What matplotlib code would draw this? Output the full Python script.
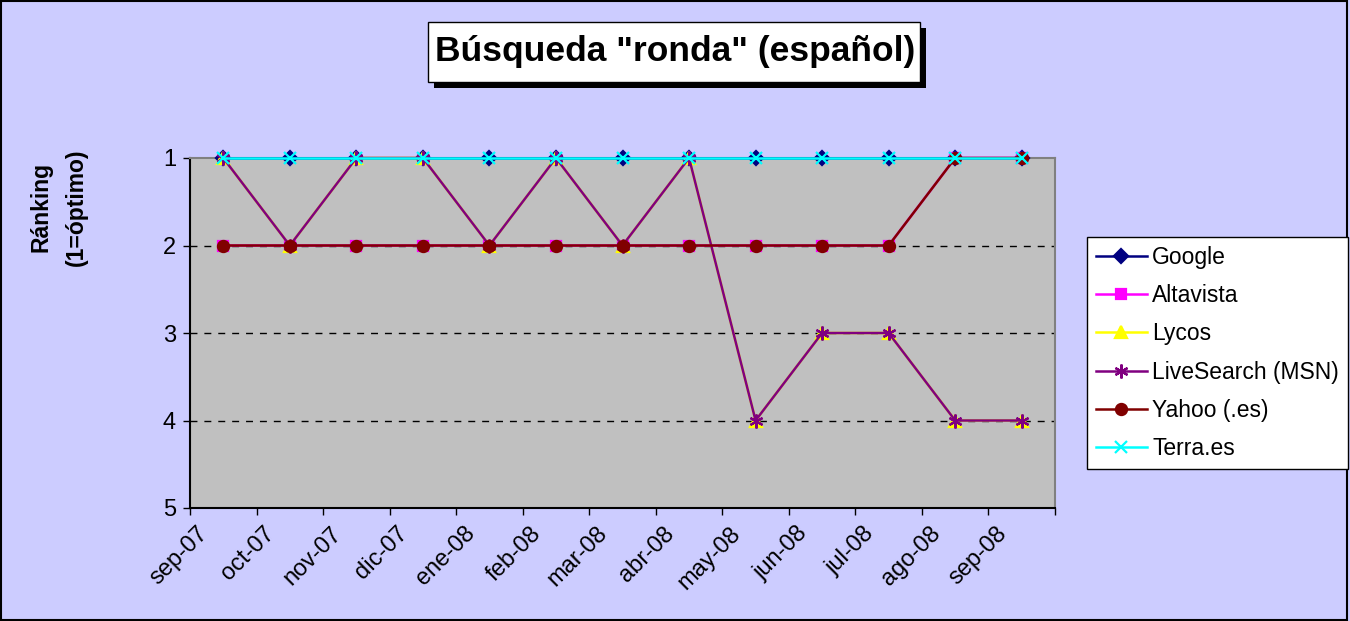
import matplotlib
matplotlib.use("Agg")
import matplotlib.pyplot as plt
from matplotlib.patches import Rectangle
from matplotlib.transforms import ScaledTranslation

plt.rcParams['font.family'] = ['Liberation Sans', 'DejaVu Sans']

months = ['sep-07', 'oct-07', 'nov-07', 'dic-07', 'ene-08', 'feb-08', 'mar-08',
          'abr-08', 'may-08', 'jun-08', 'jul-08', 'ago-08', 'sep-08']

google = [1, 1, 1, 1, 1, 1, 1, 1, 1, 1, 1, 1, 1]
altavista = [2, 2, 2, 2, 2, 2, 2, 2, 2, 2, 2, 1, 1]
lycos = [1, 2, 1, 1, 2, 1, 2, 1, 4, 3, 3, 4, 4]
livesearch = [1, 2, 1, 1, 2, 1, 2, 1, 4, 3, 3, 4, 4]
yahoo = [2, 2, 2, 2, 2, 2, 2, 2, 2, 2, 2, 1, 1]
terra = [1, 1, 1, 1, 1, 1, 1, 1, 1, 1, 1, 1, 1]

series = [
    ('Google', google, '#000080', 'D', 7),
    ('Altavista', altavista, '#FF00FF', 's', 7),
    ('Lycos', lycos, '#FFFF00', '^', 8),
    ('LiveSearch (MSN)', livesearch, '#800080', (6, 2, 0), 10),
    ('Yahoo (.es)', yahoo, '#800000', 'o', 8),
    ('Terra.es', terra, '#00FFFF', 'x', 9),
]

W, H = 1350, 621
fig = plt.figure(figsize=(W / 100, H / 100), dpi=100, facecolor='#CCCCFF')

# plot area in pixels: x 190-1055, y 158-508
ax = fig.add_axes([190 / W, (H - 508) / H, 865 / W, 350 / H])
ax.set_facecolor('#C0C0C0')

x = [i + 0.5 for i in range(len(months))]
for name, vals, color, marker, ms in series:
    ax.plot(x, vals, color=color, lw=1.8, marker=marker, markersize=ms,
            markerfacecolor=color, markeredgecolor=color, markeredgewidth=1.6,
            label=name, clip_on=False, zorder=3)

ax.set_xlim(0, len(months))
ax.set_ylim(5, 1)
ax.set_yticks([1, 2, 3, 4, 5])
ax.set_xticks(range(len(months) + 1))
ax.set_xticklabels(months + [''], rotation=45, ha='right', va='center',
                   rotation_mode='anchor')
ax.tick_params(axis='both', labelsize=17, direction='out', length=5, width=1, color='black')
ax.tick_params(axis='y', pad=5)
ax.tick_params(axis='x', pad=11)
shift = ScaledTranslation(15 / 100, 0, fig.dpi_scale_trans)
for lab in ax.get_xticklabels():
    lab.set_transform(lab.get_transform() + shift)

for yv in [2, 3, 4]:
    ax.axhline(yv, color='black', lw=1, linestyle=(0, (5, 5)), zorder=1)

ax.spines['left'].set_color('black')
ax.spines['bottom'].set_color('black')
ax.spines['top'].set_color('#808080')
ax.spines['right'].set_color('#808080')
for s in ax.spines.values():
    s.set_linewidth(1.5)

# y axis title
fig.text(59 / W, 1 - 207 / H, 'Ránking\n(1=óptimo)', rotation=90, fontsize=16.5,
         fontweight='bold', ha='center', va='center', multialignment='center',
         linespacing=1.7)

# title box with shadow
fig.add_artist(Rectangle((434 / W, 1 - 88 / H), 492 / W, 60 / H,
                         transform=fig.transFigure, facecolor='black', edgecolor='none'))
fig.add_artist(Rectangle((428 / W, 1 - 82 / H), 492 / W, 60 / H,
                         transform=fig.transFigure, facecolor='white',
                         edgecolor='black', lw=1))
fig.text(675 / W, 1 - 52 / H, 'Búsqueda "ronda" (español)', fontsize=25.5,
         fontweight='bold', ha='center', va='center')

leg = fig.legend(loc='upper left', bbox_to_anchor=(1087 / W, 1 - 237 / H),
                 fontsize=16.5, frameon=True, fancybox=False, framealpha=1,
                 edgecolor='black', facecolor='white', labelspacing=0.66,
                 handlelength=2.2, handletextpad=0.25, borderpad=0.4,
                 borderaxespad=0)
leg.get_frame().set_linewidth(1)

# outer border
fig.add_artist(Rectangle((0.001, 0.002), 0.997, 0.996, transform=fig.transFigure,
                         facecolor='none', edgecolor='black', lw=1.5))

fig.savefig('out.png', dpi=100, facecolor=fig.get_facecolor())
